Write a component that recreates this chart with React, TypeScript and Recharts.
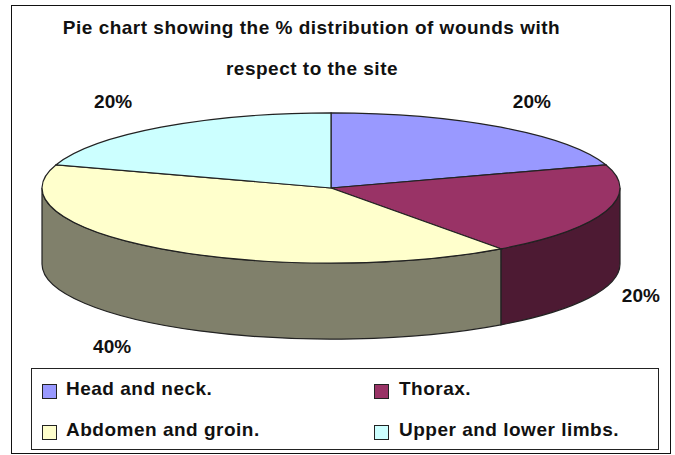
import { Legend, Pie, PieChart } from 'recharts';

const categories = ['Head and neck.', 'Thorax.', 'Abdomen and groin.', 'Upper and lower limbs.'];
const shares = [20, 20, 40, 20];
const sliceColors = ['#9999ff', '#993366', '#ffffcc', '#ccffff'];
const wallColors = ['#4d4d80', '#4d1a33', '#80806b', '#668080'];

// label shift from the rim point at each slice's middle angle
const labelShifts = [
  [31, -26],
  [35, 84],
  [-49, 98],
  [-48, -26],
];

const tilt = 0.26;
const depth = 76;
const outline = '#222222';
const font = '"Liberation Sans", Arial, sans-serif';
const RAD = Math.PI / 180;

const data = categories.map((name, i) => ({ name, value: shares[i], fill: sliceColors[i] }));

function rimPoint(cx: number, cy: number, r: number, angle: number) {
  return [cx + r * Math.cos(angle * RAD), cy - r * tilt * Math.sin(angle * RAD)];
}

// flat Pie sectors squashed to an ellipse, with a wall under the front edge
function TiltedSlice(props: any) {
  const { cx, cy, outerRadius: r, startAngle, endAngle, fill } = props;
  const ry = r * tilt;
  const [sx, sy] = rimPoint(cx, cy, r, startAngle);
  const [ex, ey] = rimPoint(cx, cy, r, endAngle);
  const large = Math.abs(startAngle - endAngle) > 180 ? 1 : 0;
  const top = `M${cx},${cy} L${sx},${sy} A${r},${ry} 0 ${large} 1 ${ex},${ey} Z`;

  const hi = Math.min(startAngle, 0);
  const lo = Math.max(endAngle, -180);
  let wall = null;
  if (hi > lo) {
    const [ax, ay] = rimPoint(cx, cy, r, hi);
    const [bx, by] = rimPoint(cx, cy, r, lo);
    wall = (
      <path
        d={`M${ax},${ay} A${r},${ry} 0 0 1 ${bx},${by} L${bx},${by + depth} A${r},${ry} 0 0 0 ${ax},${ay + depth} Z`}
        fill={wallColors[sliceColors.indexOf(fill)]}
        stroke={outline}
        strokeWidth={1.2}
      />
    );
  }

  return (
    <g>
      {wall}
      <path d={top} fill={fill} stroke={outline} strokeWidth={1.2} />
    </g>
  );
}

function SliceLabel(props: any) {
  const { cx, cy, outerRadius, midAngle, index, value } = props;
  const [x, y] = rimPoint(cx, cy, outerRadius, midAngle);
  const [dx, dy] = labelShifts[index];
  return (
    <text
      x={x + dx}
      y={y + dy}
      textAnchor="middle"
      dominantBaseline="central"
      fontFamily={font}
      fontWeight="bold"
      fontSize={19}
      fill="#111111"
    >
      {value}%
    </text>
  );
}

function LegendBox({ payload }: any) {
  return (
    <div
      style={{
        position: 'relative',
        width: 628,
        height: 82,
        boxSizing: 'border-box',
        border: '1px solid #222222',
        background: '#ffffff',
        fontFamily: font,
        fontWeight: 'bold',
        fontSize: 19,
        letterSpacing: 0.5,
        color: '#111111',
      }}
    >
      {(payload || []).map((item: any, i: number) => (
        <div
          key={item.value}
          style={{
            position: 'absolute',
            left: i % 2 === 0 ? 10 : 342,
            top: i < 2 ? 9 : 50,
            display: 'flex',
            alignItems: 'center',
            whiteSpace: 'nowrap',
          }}
        >
          <span
            style={{
              display: 'inline-block',
              width: 15,
              height: 15,
              marginTop: 4,
              marginRight: i % 2 === 0 ? 9 : 10,
              boxSizing: 'border-box',
              border: '1px solid #222222',
              background: sliceColors[i],
            }}
          />
          {item.value}
        </div>
      ))}
    </div>
  );
}

export default function App() {
  return (
    <div style={{ position: 'absolute', left: 0, top: 0, width: 675, height: 455, background: '#ffffff' }}>
      <div
        style={{
          position: 'absolute',
          left: 11,
          top: 5,
          width: 660,
          height: 449,
          boxSizing: 'border-box',
          border: '1.5px solid #111111',
        }}
      />
      <PieChart width={675} height={455} margin={{ top: 0, right: 0, bottom: 0, left: 0 }}>
        <text x={311.5} y={27} textAnchor="middle" dominantBaseline="central" fontFamily={font} fontWeight="bold" fontSize={19} letterSpacing={0.5} fill="#111111">
          Pie chart showing the % distribution of wounds with
        </text>
        <text x={312} y={68} textAnchor="middle" dominantBaseline="central" fontFamily={font} fontWeight="bold" fontSize={19} letterSpacing={0.5} fill="#111111">
          respect to the site
        </text>
        <Pie
          data={data}
          dataKey="value"
          nameKey="name"
          cx={331}
          cy={188}
          outerRadius={289}
          startAngle={90}
          endAngle={-270}
          paddingAngle={0}
          stroke="none"
          shape={TiltedSlice}
          label={SliceLabel}
          labelLine={false}
          isAnimationActive={false}
        />
        <Legend
          content={LegendBox}
          itemSorter={null}
          wrapperStyle={{ position: 'absolute', left: 31, top: 368, width: 628, height: 82, bottom: 'auto' }}
        />
      </PieChart>
    </div>
  );
}
